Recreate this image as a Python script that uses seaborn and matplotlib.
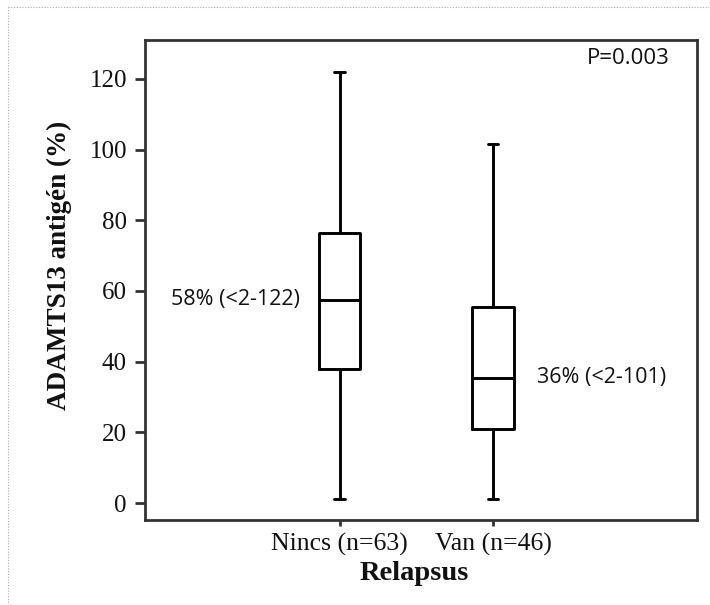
import matplotlib
matplotlib.use("Agg")
import matplotlib.pyplot as plt
import seaborn as sns
import pandas as pd
from matplotlib.lines import Line2D

# Data (five-number summaries)
categories = ["Nincs (n=63)", "Van (n=46)"]
nincs_summary = [1, 38, 57.5, 76.5, 122]   # min, Q1, median, Q3, max
van_summary = [1, 21, 35.5, 55.5, 101.5]
annotations = ["58% (<2-122)", "36% (<2-101)"]
p_text = "P=0.003"
yticks = [0, 20, 40, 60, 80, 100, 120]

df = pd.DataFrame({
    "Relapsus": [categories[0]] * len(nincs_summary) + [categories[1]] * len(van_summary),
    "value": nincs_summary + van_summary,
})

sns.set_theme(style="white")
plt.rcParams["font.family"] = ["Liberation Serif", "DejaVu Serif"]

fig = plt.figure(figsize=(7.1, 6.05), dpi=100)
ax = fig.add_axes([145 / 710, 85 / 605, 552 / 710, 480 / 605])

sns.boxplot(data=df, x="Relapsus", y="value", order=categories, ax=ax,
            fill=False, color="black", linecolor="black", linewidth=2.1,
            width=0.27, whis=(0, 100), capwidths=0.07)

ax.set_xlim(-1.27, 2.33)
ax.set_ylim(-4.8, 131)
ax.set_yticks(yticks)
ax.set_yticklabels([str(t) for t in yticks])

for s in ax.spines.values():
    s.set_visible(True)
    s.set_color("#333333")
    s.set_linewidth(2.0)

ax.tick_params(axis="y", direction="out", length=7, width=2, color="#333333",
               labelsize=18, pad=6, left=True)
ax.tick_params(axis="x", direction="out", length=4, width=2, color="#333333",
               labelsize=18.5, pad=5, bottom=True)
for lab in ax.get_xticklabels() + ax.get_yticklabels():
    lab.set_color("#111111")

ax.set_xlabel("Relapsus", fontsize=20.5, fontweight="bold", color="#111111")
ax.xaxis.set_label_coords(0.488, -0.085)
ax.set_ylabel("ADAMTS13 antigén (%)", fontsize=19.5, fontweight="bold", color="#111111")
ax.yaxis.set_label_coords(-0.133, 0.531)

sans = ["Open Sans", "DejaVu Sans"]
ax.text(-0.26, nincs_summary[2], annotations[0], ha="right", va="center",
        fontsize=15.5, family=sans, color="#111111")
ax.text(1.285, van_summary[2], annotations[1], ha="left", va="center",
        fontsize=15.5, family=sans, color="#111111")
ax.text(0.951, 0.9625, p_text, transform=ax.transAxes, ha="right", va="center",
        fontsize=16, family=sans, color="#111111")

# dotted page border
fig.add_artist(Line2D([8 / 710, 8 / 710], [0, 598 / 605], transform=fig.transFigure,
                      color="#aaaaaa", lw=0.8, ls=(0, (1, 1.5))))
fig.add_artist(Line2D([8 / 710, 1], [598 / 605, 598 / 605], transform=fig.transFigure,
                      color="#aaaaaa", lw=0.8, ls=(0, (1, 1.5))))

fig.savefig("out.png", dpi=100)
